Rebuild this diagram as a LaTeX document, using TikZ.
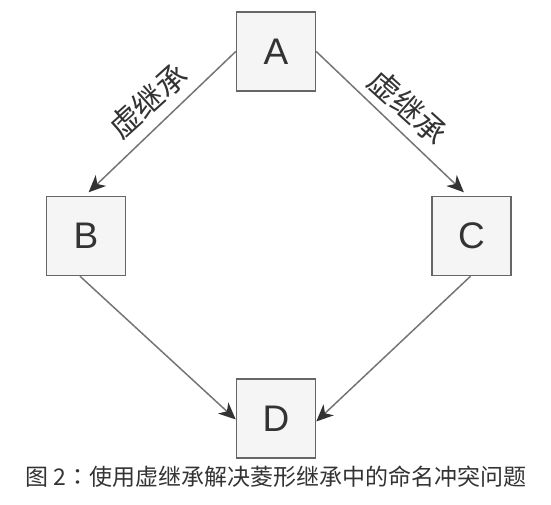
\documentclass[tikz,border=0pt]{standalone}
\usepackage{fontspec}
\setmainfont{Liberation Sans}
\newfontfamily\cjk{Noto Sans CJK SC}
\newfontfamily\cjktc{Noto Sans CJK TC}
\usetikzlibrary{arrows.meta}
\definecolor{boxfill}{HTML}{F5F5F5}
\definecolor{boxline}{HTML}{666666}
\definecolor{edgeline}{HTML}{757575}
\definecolor{ink}{HTML}{333333}
\begin{document}
\begin{tikzpicture}[x=1bp,y=-1bp,
  classbox/.style={draw=boxline,fill=boxfill,line width=1.5bp,minimum size=79bp,
    inner sep=0pt,text=ink,font=\fontsize{37bp}{40bp}\selectfont},
  inherit/.style={draw=edgeline,line width=1.5bp,
    -{Stealth[length=17bp,width=15bp,inset=5bp,fill=ink,color=ink]}},
  edgelabel/.style={text=ink,inner sep=0pt,font=\cjk\fontsize{31bp}{33bp}\selectfont},
  caption/.style={text=ink,inner sep=0pt,font=\cjk\fontsize{23bp}{26bp}\selectfont}]
\useasboundingbox (0,0) rectangle (551,505);

% the four classes of the diamond
\node[classbox] (A) at (276,51.5) {A};
\node[classbox] (B) at (86,236) {B};
\node[classbox] (C) at (471.5,236) {C};
\node[classbox] (D) at (276,418.5) {D};

% virtual inheritance from A
\draw[inherit,shorten >=5bp] (A.west) -- ([xshift=-1bp]B.north);
\draw[inherit,shorten >=5bp] (A.east) -- ([xshift=-4bp]C.north);
\node[edgelabel,rotate=42] (lab1) at (148,101) {虚继承};
\node[edgelabel,rotate=-42] (lab2) at (408,107) {虚继承};

% D inherits from both B and C
\draw[inherit] ([xshift=-6bp]B.south) -- ([yshift=-1bp]D.west);
\draw[inherit] ([xshift=-1bp]C.south) -- ([yshift=-3bp]D.east);

% caption; the TC face sets the full-width colon centred in its cell
\node[caption] (cap) at (276,477) {图 2{\cjktc ：}使用虚继承解决菱形继承中的命名冲突问题};
\end{tikzpicture}
\end{document}
